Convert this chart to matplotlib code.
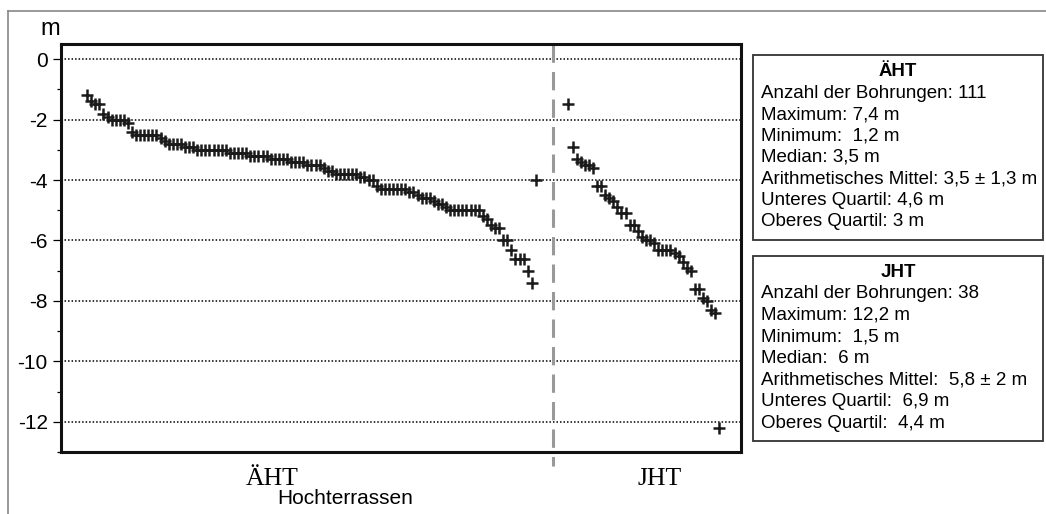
import matplotlib.pyplot as plt
from matplotlib.lines import Line2D
from matplotlib.patches import Rectangle
import numpy as np

plt.rcParams['font.family'] = ['Liberation Sans', 'DejaVu Sans']
plt.rcParams['axes.unicode_minus'] = False

# Tiefen (m) der Bohrungen
aht = [-1.2, -1.4, -1.5, -1.5, -1.8, -1.9, -2.0, -2.0, -2.0, -2.0,
       -2.1, -2.4, -2.5, -2.5, -2.5, -2.5, -2.5, -2.5, -2.6, -2.7,
       -2.8, -2.8, -2.8, -2.8, -2.9, -2.9, -2.9, -3.0, -3.0, -3.0,
       -3.0, -3.0, -3.0, -3.0, -3.0, -3.1, -3.1, -3.1, -3.1, -3.1,
       -3.2, -3.2, -3.2, -3.2, -3.2, -3.3, -3.3, -3.3, -3.3, -3.3,
       -3.4, -3.4, -3.4, -3.4, -3.5, -3.5, -3.5, -3.5, -3.6, -3.7,
       -3.7, -3.8, -3.8, -3.8, -3.8, -3.8, -3.8, -3.9, -3.9, -4.0,
       -4.0, -4.2, -4.3, -4.3, -4.3, -4.3, -4.3, -4.3, -4.3, -4.4,
       -4.4, -4.5, -4.6, -4.6, -4.6, -4.7, -4.8, -4.8, -4.9, -5.0,
       -5.0, -5.0, -5.0, -5.0, -5.0, -5.0, -5.0, -5.2, -5.3, -5.5,
       -5.6, -5.6, -6.0, -6.0, -6.3, -6.6, -6.6, -6.6, -7.0, -7.4,
       -4.0]
jht = [-1.5, -2.9, -3.3, -3.4, -3.5, -3.5, -3.6, -4.2, -4.2, -4.5,
       -4.6, -4.7, -4.9, -5.1, -5.1, -5.5, -5.5, -5.7, -5.9, -6.0,
       -6.0, -6.1, -6.3, -6.3, -6.3, -6.3, -6.4, -6.5, -6.7, -6.9,
       -7.0, -7.6, -7.6, -7.9, -8.0, -8.3, -8.4, -12.2]

aht_x = np.arange(1, len(aht) + 1)
jht_x = np.arange(119, 119 + len(jht))
trenn_x = 115.2

yticks = [0, -2, -4, -6, -8, -10, -12]

aht_stats = ["Anzahl der Bohrungen: 111", "Maximum: 7,4 m", "Minimum:  1,2 m",
             "Median: 3,5 m", "Arithmetisches Mittel: 3,5 \u00b1 1,3 m",
             "Unteres Quartil: 4,6 m", "Oberes Quartil: 3 m"]
jht_stats = ["Anzahl der Bohrungen: 38", "Maximum: 12,2 m", "Minimum:  1,5 m",
             "Median:  6 m", "Arithmetisches Mittel:  5,8 \u00b1 2 m",
             "Unteres Quartil:  6,9 m", "Oberes Quartil:  4,4 m"]

W, H = 1046, 514
fig = plt.figure(figsize=(W / 100, H / 100), dpi=100)
ax = fig.add_axes([61 / W, 1 - 452 / H, 680 / W, 408 / H])

for y in yticks:
    ax.axhline(y, color='black', lw=1.1, ls=(0, (1, 1.3)), zorder=1)

ax.plot(aht_x, aht, ls='none', marker='+', ms=9, mew=1.8, color='#1a1a1a', zorder=3)
ax.plot(jht_x, jht, ls='none', marker='+', ms=9, mew=1.8, color='#1a1a1a', zorder=3)

ax.plot([trenn_x, trenn_x], [0.5, -13.45], color='#999999', lw=2.2,
        ls=(0, (6, 3)), clip_on=False, zorder=2)

ax.set_xlim(-5.4, 161.3)
ax.set_ylim(-13, 0.5)
ax.set_xticks([])
ax.set_yticks(yticks)
ax.set_yticks(np.arange(-13, 0, 2), minor=True)
ax.tick_params(axis='y', which='major', direction='out', length=5.5, width=0.9,
               labelsize=15, pad=4)
ax.tick_params(axis='y', which='minor', direction='out', length=3, width=0.9)
for s in ax.spines.values():
    s.set_linewidth(2.2)
    s.set_color('#111111')

ax.text(46.3, -13.9, "\u00c4HT", family=['Liberation Serif'], fontsize=18.5,
        ha='center', va='center')
ax.text(141.4, -13.9, "JHT", family=['Liberation Serif'], fontsize=18.5,
        ha='center', va='center')

fig.text(345 / W, 1 - 498 / H, "Hochterrassen", fontsize=15, ha='center', va='center')
fig.text(50 / W, 1 - 29 / H, "m", fontsize=17, ha='center', va='center')

# Rahmen links und oben
fig.add_artist(Line2D([8 / W, 8 / W], [0, 1 - 11 / H], color='#888888', lw=1.2))
fig.add_artist(Line2D([8 / W, 1], [1 - 11 / H, 1 - 11 / H], color='#888888', lw=1.2))


def stat_box(top, bottom, title, lines):
    fig.add_artist(Rectangle((753 / W, 1 - bottom / H), 290 / W, (bottom - top) / H,
                             fill=False, edgecolor='#333333', lw=1.3))
    fig.text(898 / W, 1 - (top + 16.5) / H, title, fontsize=13.5, fontweight='bold',
             ha='center', va='center')
    for k, t in enumerate(lines):
        fig.text(761 / W, 1 - (top + 38 + k * 21.5) / H, t, fontsize=13.5,
                 ha='left', va='center')


stat_box(55, 240, "\u00c4HT", aht_stats)
stat_box(256, 441, "JHT", jht_stats)

fig.savefig('out.png', dpi=100)
